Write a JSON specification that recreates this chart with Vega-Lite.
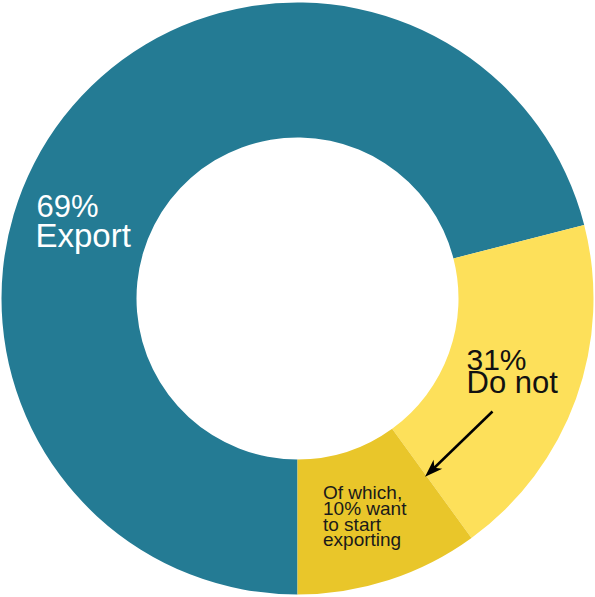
{
  "$schema": "https://vega.github.io/schema/vega-lite/v6.json",
  "width": 595,
  "height": 597,
  "autosize": {"type": "fit", "contains": "padding"},
  "padding": 0,
  "background": "white",
  "config": {"view": {"stroke": null}},
  "datasets": {
    "slices": [
      {"k": 1, "group": "Export", "share": 71},
      {"k": 2, "group": "Do not (other)", "share": 19},
      {"k": 3, "group": "Want to start exporting", "share": 10}
    ],
    "labels": [
      {"text": "69%", "x": -261, "y": 82, "size": 31, "color": "white"},
      {"text": "Export", "x": -262, "y": 52, "size": 33, "color": "white"},
      {"text": "31%", "x": 169, "y": -71, "size": 30, "color": "#111111"},
      {"text": "Do not", "x": 169, "y": -94, "size": 31, "color": "#111111"},
      {"text": "Of which,", "x": 25.5, "y": -200, "size": 19, "color": "#1a1a1a"},
      {"text": "10% want", "x": 25.5, "y": -216, "size": 19, "color": "#1a1a1a"},
      {"text": "to start", "x": 25.5, "y": -232, "size": 19, "color": "#1a1a1a"},
      {"text": "exporting", "x": 25.5, "y": -247, "size": 19, "color": "#1a1a1a"}
    ],
    "arrow": [
      {"x": 195, "y": -113, "x2": 134, "y2": -172}
    ],
    "head": [
      {"x": 134, "y": -172, "angle": 226}
    ]
  },
  "layer": [
    {
      "data": {"name": "slices"},
      "mark": {"type": "arc", "outerRadius": 296, "innerRadius": 161, "stroke": null},
      "encoding": {
        "theta": {"field": "share", "type": "quantitative", "stack": true, "scale": {"range": [3.14159265, 9.42477796]}},
        "order": {"field": "k", "type": "quantitative"},
        "color": {
          "field": "group", "type": "nominal", "legend": null,
          "scale": {"domain": ["Export", "Do not (other)", "Want to start exporting"], "range": ["#247b94", "#fde05a", "#e9c62a"]}
        }
      }
    },
    {
      "data": {"name": "labels"},
      "mark": {"type": "text", "align": "left", "baseline": "alphabetic", "font": "Liberation Sans"},
      "encoding": {
        "x": {"field": "x", "type": "quantitative", "scale": {"domain": [-297.5, 297.5], "nice": false, "zero": false}, "axis": null},
        "y": {"field": "y", "type": "quantitative", "scale": {"domain": [-298.5, 298.5], "nice": false, "zero": false}, "axis": null},
        "text": {"field": "text"},
        "size": {"field": "size", "type": "quantitative", "scale": null},
        "color": {"field": "color", "type": "nominal", "scale": null}
      }
    },
    {
      "data": {"name": "arrow"},
      "mark": {"type": "rule", "color": "black", "strokeWidth": 2.5},
      "encoding": {
        "x": {"field": "x", "type": "quantitative"},
        "y": {"field": "y", "type": "quantitative"},
        "x2": {"field": "x2"},
        "y2": {"field": "y2"}
      }
    },
    {
      "data": {"name": "head"},
      "mark": {"type": "point", "filled": true, "color": "black", "opacity": 1, "shape": "M0,-1 L0.7,1 L0,0.45 L-0.7,1 Z", "size": 320},
      "encoding": {
        "x": {"field": "x", "type": "quantitative"},
        "y": {"field": "y", "type": "quantitative"},
        "angle": {"field": "angle", "type": "quantitative", "scale": null}
      }
    }
  ],
  "resolve": {"scale": {"color": "independent"}}
}
